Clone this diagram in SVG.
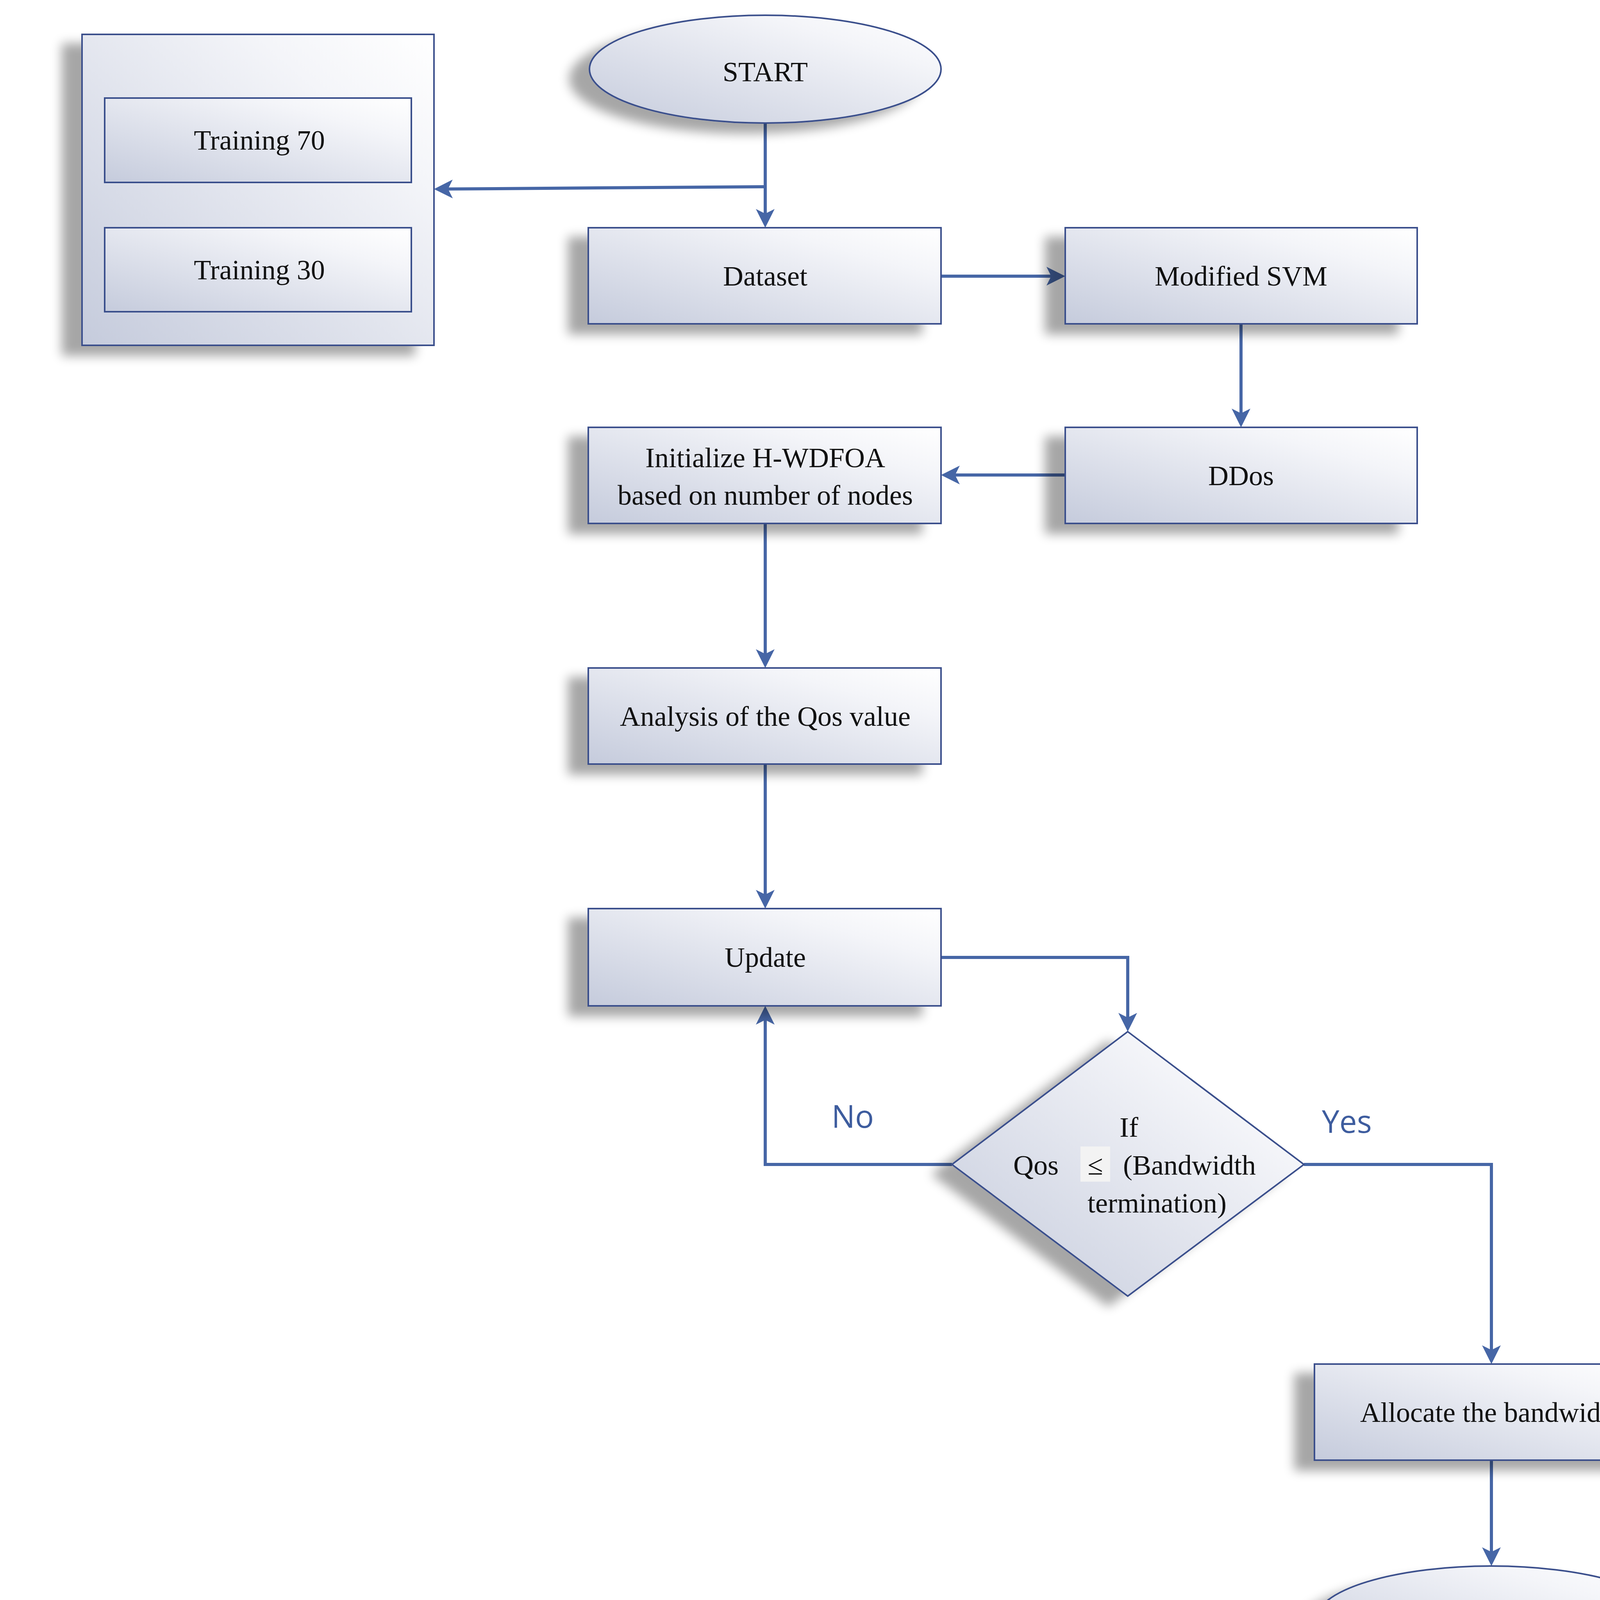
<svg xmlns="http://www.w3.org/2000/svg" width="4310" height="4317" viewBox="0 0 4310 4317">
<defs>
<linearGradient id="g" x1="0" y1="1" x2="1" y2="0">
<stop offset="0" stop-color="#c5cbdc"/><stop offset="0.75" stop-color="#f4f5f9"/><stop offset="1" stop-color="#ffffff"/>
</linearGradient>
<filter id="sh" x="-20%" y="-20%" width="140%" height="160%">
<feGaussianBlur in="SourceAlpha" stdDeviation="14"/>
<feOffset dx="-50" dy="25" result="b"/>
<feComponentTransfer><feFuncA type="linear" slope="0.35"/></feComponentTransfer>
<feMerge><feMergeNode/><feMergeNode in="SourceGraphic"/></feMerge>
</filter>
<marker id="ar" markerWidth="6" markerHeight="6" refX="5" refY="3" orient="auto" markerUnits="strokeWidth">
<path d="M0,0 L6,3 L0,6 L1.5,3 Z" fill="#4666a6"/>
</marker>
</defs>
<style>
.n{fill:url(#g);stroke:#3a4f8c;stroke-width:4;filter:url(#sh)}
.t{font-family:"Liberation Serif",serif;font-size:72px;fill:#111;text-anchor:middle}
.c{fill:none;stroke:#4666a6;stroke-width:8;marker-end:url(#ar)}
.l{font-family:"Open Sans","Liberation Sans",sans-serif;font-size:80px;fill:#3d5c9e;text-anchor:middle}
</style>
<rect width="4310" height="4317" fill="#fff"/>
<g id="connectors">
<path class="c" d="M1959,315 V575"/>
<path class="c" d="M1959,478 L1119,484"/>
<path class="c" d="M2409,707 H2719"/>
<path class="c" d="M3177,829 V1086"/>
<path class="c" d="M2727,1216 H2417"/>
<path class="c" d="M1959,1340 V1702"/>
<path class="c" d="M1959,1956 V2318"/>
<path class="c" d="M2409,2451 H2887 V2633"/>
<path class="c" d="M2437,2981 H1959 V2583"/>
<path class="c" d="M3338,2981 H3818 V3484"/>
<path class="c" d="M3818,3738 V4001"/>
<text class="l" x="2183" y="2887">No</text>
<text class="l" x="3448" y="2900">Yes</text>
</g>
<g id="start"><ellipse class="n" cx="1959" cy="177" rx="450" ry="138"/><text class="t" x="1959" y="208" font-size="94">START</text></g>
<g id="outer"><rect class="n" x="210" y="88" width="901" height="796"/></g>
<g id="training70"><rect class="n" x="268" y="251" width="785" height="216" style="filter:none"/><text class="t" x="664" y="383">Training 70</text></g>
<g id="training30"><rect class="n" x="268" y="583" width="785" height="215" style="filter:none"/><text class="t" x="664" y="715">Training 30</text></g>
<g id="dataset"><rect class="n" x="1506" y="583" width="903" height="246"/><text class="t" x="1959" y="731">Dataset</text></g>
<g id="svm"><rect class="n" x="2727" y="583" width="901" height="246"/><text class="t" x="3177" y="731">Modified SVM</text></g>
<g id="ddos"><rect class="n" x="2727" y="1094" width="901" height="246"/><text class="t" x="3177" y="1242">DDos</text></g>
<g id="init"><rect class="n" x="1506" y="1094" width="903" height="246"/><text class="t" x="1959" y="1196">Initialize H-WDFOA</text><text class="t" x="1959" y="1292">based on number of nodes</text></g>
<g id="analysis"><rect class="n" x="1506" y="1710" width="903" height="246"/><text class="t" x="1959" y="1858">Analysis of the Qos value</text></g>
<g id="update"><rect class="n" x="1506" y="2326" width="903" height="249"/><text class="t" x="1959" y="2475">Update</text></g>
<g id="decision"><path class="n" d="M2887,2641 L3338,2981 L2887,3318 L2437,2981 Z"/>
<text class="t" x="2890" y="2910">If</text>
<text class="t" x="2652" y="3007">Qos</text>
<rect x="2766" y="2935" width="76" height="90" fill="#f3f3f3"/>
<text class="t" x="2804" y="3007">≤</text>
<text class="t" x="3045" y="3007">(Bandwidth</text>
<text class="t" x="2962" y="3104">termination)</text></g>
<g id="allocate"><rect class="n" x="3365" y="3492" width="904" height="246"/><text class="t" x="3818" y="3640">Allocate the bandwidth</text></g>
<g id="stop"><ellipse class="n" cx="3818" cy="4147" rx="450" ry="138"/><text class="t" x="3818" y="4178" font-size="94">STOP</text></g>
</svg>
